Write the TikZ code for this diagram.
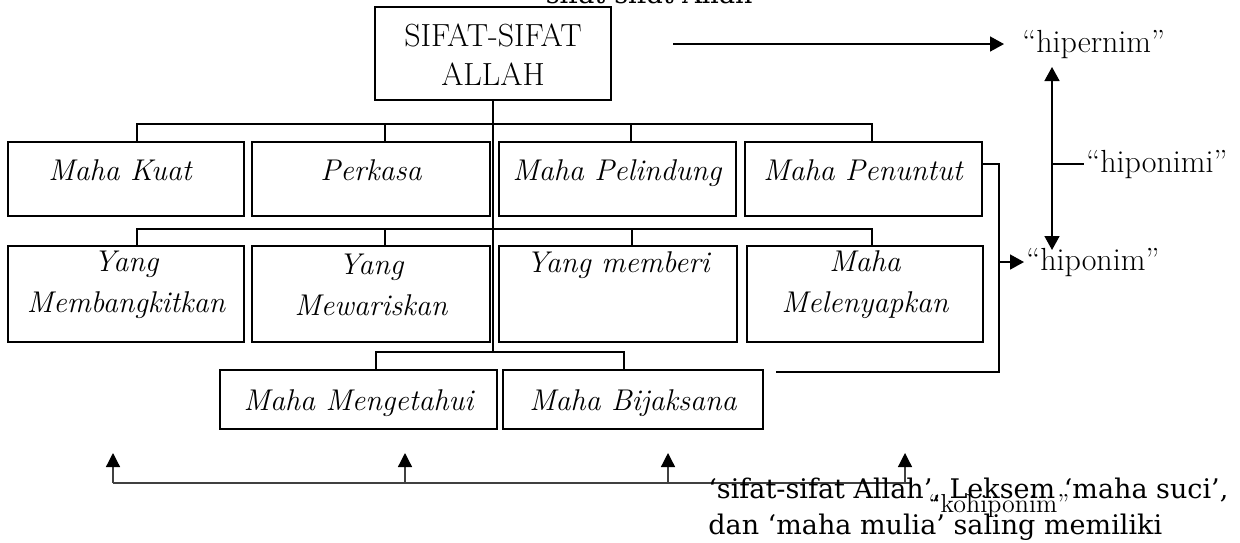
\documentclass[tikz,border=0pt]{standalone}
\usepackage{fontspec}
\newfontfamily\camfont{DejaVu Serif}
\usetikzlibrary{arrows.meta}
\begin{document}
\begin{tikzpicture}[x=0.5pt,y=-0.5pt,
  box/.style={draw, line width=1pt, inner sep=0pt},
  con/.style={line width=0.8pt},
  arr/.style={line width=0.8pt, -{Triangle[length=7pt,width=7.5pt]}},
  darr/.style={line width=0.8pt, {Triangle[length=7pt,width=7.5pt]}-{Triangle[length=7pt,width=7.5pt]}},
  garr/.style={line width=0.65pt, draw=black!75, -{Triangle[length=7pt,width=7pt,color=black,fill=black]}},
  itl/.style={font=\fontsize{15}{20.5}\selectfont\itshape, align=center, inner sep=0pt},
  upl/.style={font=\fontsize{16}{19}\selectfont, align=center, inner sep=0pt},
  btxt/.style={font=\camfont\fontsize{13.5}{19}\selectfont, inner sep=0pt},
  smalltxt/.style={font=\fontsize{13}{15}\selectfont, inner sep=0pt}]
\useasboundingbox (0,0) rectangle (1240,542);

% top box
\node[box, minimum width=118pt, minimum height=46.5pt] (top) at (493,53.5) {};
\node[upl] (topt) at (493,55) {SIFAT-SIFAT\\[0.5pt]ALLAH};

% row 1
\node[box, minimum width=118pt, minimum height=37pt] (k1) at (126,179) {};
\node[box, minimum width=119pt, minimum height=37pt] (k2) at (371,179) {};
\node[box, minimum width=118.5pt, minimum height=37pt] (k3) at (617.5,179) {};
\node[box, minimum width=118.5pt, minimum height=37pt] (k4) at (863.5,179) {};
\node[itl, anchor=base] (k1t) at (120,180) {Maha Kuat};
\node[itl, anchor=base] (k2t) at (371,180) {Perkasa};
\node[itl, anchor=base] (k3t) at (617,180) {Maha Pelindung};
\node[itl, anchor=base] (k4t) at (863,180) {Maha Penuntut};

% row 2
\node[box, minimum width=118pt, minimum height=48pt] (m1) at (126,294) {};
\node[box, minimum width=119pt, minimum height=48pt] (m2) at (371,294) {};
\node[box, minimum width=119pt, minimum height=48pt] (m3) at (618,294) {};
\node[box, minimum width=118pt, minimum height=48pt] (m4) at (865,294) {};
\node[itl] (m1t) at (126,284.5) {Yang\\Membangkitkan};
\node[itl] (m2t) at (371,284.5) {Yang\\Mewariskan};
\node[itl, anchor=base] (m3t) at (618,272) {Yang memberi};
\node[itl] (m4t) at (865,284.5) {Maha\\Melenyapkan};

% row 3
\node[box, minimum width=138.5pt, minimum height=29.5pt] (n1) at (358.5,399.5) {};
\node[box, minimum width=130pt, minimum height=29.5pt] (n2) at (633,399.5) {};
\node[itl, anchor=base] (n1t) at (358.5,410) {Maha Mengetahui};
\node[itl, anchor=base] (n2t) at (633,410) {Maha Bijaksana};

% brackets
\coordinate (r3) at ([xshift=8.75pt,yshift=8.5pt]n1.north);
\draw[con] (top.south) -- (top.south |- r3);
\draw[con] ([xshift=5.5pt]k1.north) -- ++(0,-17) -| ([xshift=4.25pt]k4.north);
\draw[con] ([xshift=7pt]k2.north) -- ++(0,-17);
\draw[con] ([xshift=6.75pt]k3.north) -- ++(0,-17);
\draw[con] ([xshift=5.5pt]m1.north) -- ++(0,-16) -| ([xshift=3.5pt]m4.north);
\draw[con] ([xshift=7pt]m2.north) -- ++(0,-16);
\draw[con] ([xshift=7pt]m3.north) -- ++(0,-16);
\draw[con] ([xshift=8.75pt]n1.north) -- (r3) -| ([xshift=-4.5pt]n2.north);

% right side labels
\node[upl, anchor=base west] (hip) at (1022,52) {“hipernim”};
\node[upl, anchor=base west] (hpi) at (1086,172) {“hiponimi”};
\node[upl, anchor=base west] (hpo) at (1026,270) {“hiponim”};

\coordinate (hs) at (673,0);
\draw[arr] (hs |- hip.west) -- ([xshift=-9pt]hip.west);
\coordinate (vt) at (1052,67);
\coordinate (vb) at (1052,250);
\draw[darr] (vt) -- (vb);
\draw[con] (vt |- hpi.west) -- ([xshift=-1pt]hpi.west);

\coordinate (rv) at (999,0);
\coordinate (re) at (776,372);
\draw[con] ([yshift=7.5pt]k4.east) -| (rv |- re) -- (re);
\draw[arr] (rv |- hpo.west) -- ([xshift=-1pt]hpo.west);

% bottom arrows
\coordinate (q1) at (113,483);
\coordinate (q2) at (405,483);
\coordinate (q3) at (668,483);
\coordinate (q4) at (905,483);
\coordinate (qe) at (912,483);
\coordinate (p1) at (113,453);
\coordinate (p2) at (405,453);
\coordinate (p3) at (668,453);
\coordinate (p4) at (905,453);
\draw[line width=0.65pt, draw=black!75] (q1) -- (qe);
\draw[garr] (q1) -- (p1);
\draw[garr] (q2) -- (p2);
\draw[garr] (q3) -- (p3);
\draw[garr] (q4) -- (p4);

% bottom / top text
\node[btxt, anchor=base east] (t0) at (753,3) {sifat-sifat Allah};
\node[btxt, anchor=base west] (t1) at (708,498) {‘sifat-sifat Allah’, Leksem ‘maha suci’,};
\node[btxt, anchor=base west] (t2) at (708,534) {dan ‘maha mulia’ saling memiliki};
\node[smalltxt, anchor=base] (koh) at (999,512) {“kohiponim”};
\end{tikzpicture}
\end{document}
